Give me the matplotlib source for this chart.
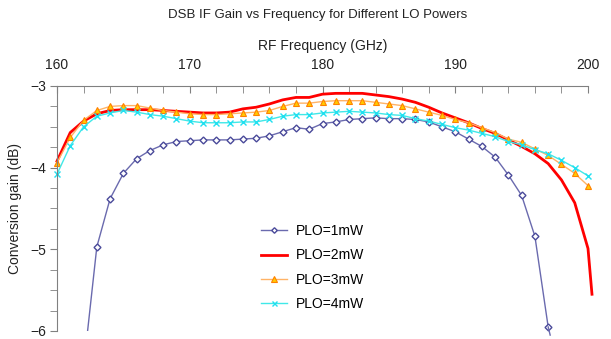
"""DSB IF gain vs RF frequency for four LO powers."""

import numpy as np
import matplotlib
matplotlib.use("Agg")
import matplotlib.pyplot as plt

plt.rcParams['font.family'] = ['Liberation Sans', 'DejaVu Sans']

# PLO = 1 mW (162 .. 197 GHz)
freq_1mw = list(range(162, 198)) + [197.15]
gain_1mw = [-6.45, -4.97, -4.38, -4.07, -3.89, -3.79, -3.72, -3.68, -3.67, -3.66,
            -3.66, -3.66, -3.65, -3.64, -3.61, -3.56, -3.51, -3.53, -3.46, -3.44,
            -3.41, -3.40, -3.39, -3.40, -3.40, -3.41, -3.44, -3.50, -3.56, -3.65,
            -3.74, -3.87, -4.09, -4.34, -4.84, -5.95, -6.05]

# PLO = 2 mW (160 .. 200 GHz, plus the tail past 200)
freq_2mw = list(range(160, 201)) + [200.3]
gain_2mw = [-3.92, -3.57, -3.43, -3.34, -3.30, -3.29, -3.29, -3.29, -3.30, -3.31,
            -3.32, -3.33, -3.33, -3.32, -3.28, -3.26, -3.22, -3.17, -3.14, -3.14,
            -3.10, -3.09, -3.09, -3.09, -3.11, -3.13, -3.16, -3.20, -3.26, -3.33,
            -3.39, -3.45, -3.52, -3.58, -3.66, -3.74, -3.83, -3.95, -4.15, -4.43,
            -4.99, -5.55]

# PLO = 3 mW
freq_3mw = np.arange(160, 201)
gain_3mw = [-3.94, -3.63, -3.42, -3.30, -3.25, -3.24, -3.24, -3.27, -3.30, -3.32,
            -3.34, -3.35, -3.35, -3.34, -3.33, -3.32, -3.30, -3.25, -3.21, -3.21,
            -3.19, -3.18, -3.18, -3.18, -3.20, -3.22, -3.24, -3.28, -3.32, -3.36,
            -3.41, -3.45, -3.51, -3.57, -3.65, -3.69, -3.77, -3.85, -3.96, -4.07,
            -4.22]

# PLO = 4 mW
freq_4mw = np.arange(160, 201)
gain_4mw = [-4.08, -3.73, -3.50, -3.37, -3.33, -3.30, -3.32, -3.35, -3.37, -3.40,
            -3.43, -3.45, -3.45, -3.45, -3.44, -3.44, -3.41, -3.37, -3.35, -3.35,
            -3.33, -3.32, -3.31, -3.32, -3.33, -3.35, -3.36, -3.40, -3.43, -3.47,
            -3.51, -3.54, -3.58, -3.62, -3.68, -3.72, -3.78, -3.83, -3.91, -4.00,
            -4.10]

fig = plt.figure(figsize=(6.11, 3.39), dpi=100)
ax = fig.add_axes([57 / 611, 1 - 331 / 339, 531 / 611, 245 / 339])

ax.plot(freq_1mw[:-1], gain_1mw[:-1], color='#6a6aae', lw=1.0, marker='D', ms=3.5,
        mfc='white', mec='#4a4a9a', mew=1.0, label='PLO=1mW')
ax.plot(freq_1mw[-2:], gain_1mw[-2:], color='#6a6aae', lw=1.0, clip_on=False)
ax.plot(freq_2mw, gain_2mw, color='#ff0000', lw=2.0, label='PLO=2mW',
        clip_on=False)
ax.plot(freq_3mw, gain_3mw, color='#ffb366', lw=1.0, marker='^', ms=5,
        mfc='#ffcc00', mec='#ff8000', mew=0.8, label='PLO=3mW', clip_on=False)
ax.plot(freq_4mw, gain_4mw, color='#40e8e8', lw=1.0, marker='x', ms=4.5,
        mec='#20e0f0', mew=1.0, label='PLO=4mW', clip_on=False)

ax.set_xlim(160, 200)
ax.set_ylim(-6, -3)
ax.xaxis.tick_top()
ax.xaxis.set_label_position('top')
ax.set_xticks(np.arange(160, 201, 10))
ax.set_xticks(np.arange(160, 201, 2), minor=True)
ax.set_yticks([-6, -5, -4, -3])
ax.set_yticks(np.arange(-6, -2.9, 0.25), minor=True)
ax.tick_params(axis='x', which='both', direction='in', length=5, color='#808080',
               labelsize=10, pad=10, labelcolor='#222222')
ax.tick_params(axis='y', which='both', direction='out', length=5, color='#808080',
               labelsize=10, pad=3, labelcolor='#222222')

for side in ['right', 'bottom']:
    ax.spines[side].set_visible(False)
for side in ['top', 'left']:
    ax.spines[side].set_color('#808080')

ax.set_xlabel('RF Frequency (GHz)', fontsize=10, labelpad=6, color='#222222')
ax.set_ylabel('Conversion gain (dB)', fontsize=10, labelpad=6, color='#222222')
fig.text(0.52, 0.955, 'DSB IF Gain vs Frequency for Different LO Powers',
         ha='center', va='center', fontsize=9.5, color='#222222')

ax.legend(loc='upper left', bbox_to_anchor=(261 / 611, 1 - 224 / 339),
          bbox_transform=fig.transFigure, frameon=False, fontsize=10,
          borderpad=0, borderaxespad=0, handlelength=1.9, handletextpad=0.6,
          labelspacing=0.75, markerscale=0.8)

fig.savefig('out.png', dpi=100)
